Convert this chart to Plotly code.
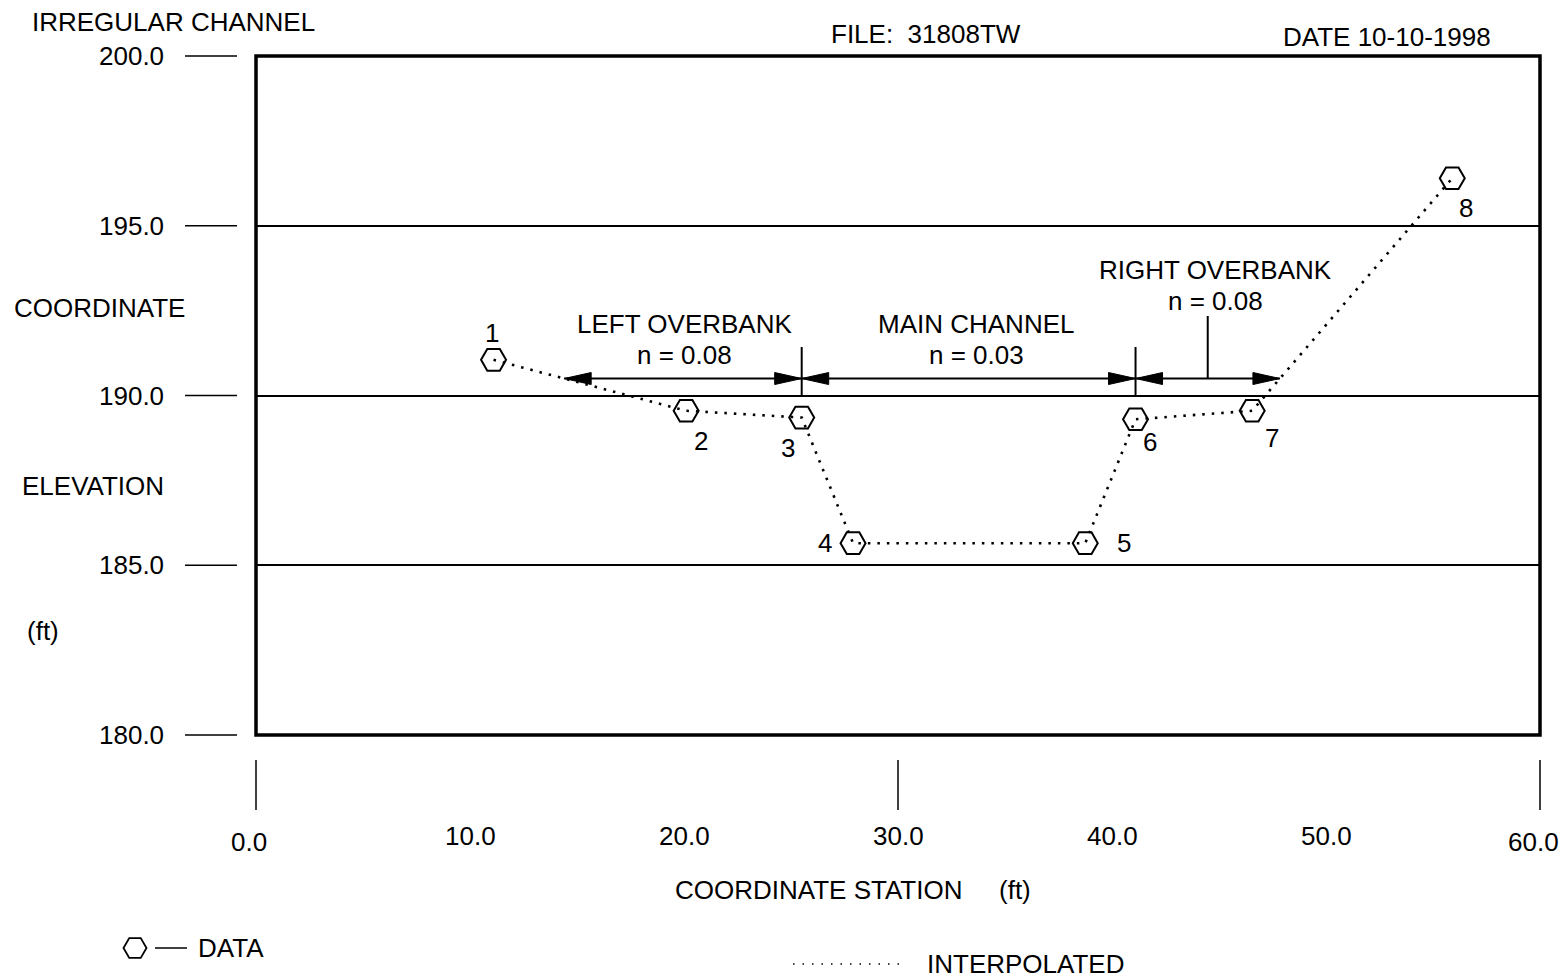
import numpy as np
import plotly.graph_objects as go

# ---------------- data ----------------
station = [11.1, 20.1, 25.5, 27.9, 38.75, 41.1, 46.55, 55.9]
elevation = [191.05, 189.55, 189.35, 185.65, 185.65, 189.3, 189.55, 196.4]
point_ids = ["1", "2", "3", "4", "5", "6", "7", "8"]
y_ticks = [180.0, 185.0, 190.0, 195.0, 200.0]
x_ticks = [0.0, 10.0, 20.0, 30.0, 40.0, 50.0, 60.0]
x_major_ticks = [0.0, 30.0, 60.0]
bank_left = 25.5
bank_right = 41.1
region_names = ["LEFT OVERBANK", "MAIN CHANNEL", "RIGHT OVERBANK"]
manning_n = [0.08, 0.03, 0.08]
n_level = 190.5

# ---------------- layout constants ----------------
W, H = 1564, 978
X0, X1 = 256, 1540      # plot area left/right (px)
YT, YB = 56, 735        # plot area top/bottom (px)
XMIN, XMAX = 0.0, 60.0
YMIN, YMAX = 180.0, 200.0
PXX = (X1 - X0) / (XMAX - XMIN)
PXY = (YB - YT) / (YMAX - YMIN)
FONT = "Liberation Sans, Arial, sans-serif"
FS = 26


def xpx(v):
    return X0 + (v - XMIN) * PXX


def ypx(v):
    return YT + (YMAX - v) * PXY


def yval(py):
    return YMAX - (py - YT) / PXY


def crossing(x, y, level, side):
    """station where the ground profile crosses the given level"""
    pts = list(zip(x, y))
    segs = list(zip(pts[:-1], pts[1:]))
    if side == "right":
        segs = segs[::-1]
    for (xa, ya), (xb, yb) in segs:
        if (ya - level) * (yb - level) <= 0 and ya != yb:
            return xa + (level - ya) * (xb - xa) / (yb - ya)
    return x[0] if side == "left" else x[-1]


left_edge = crossing(station, elevation, n_level, "left")
right_edge = crossing(station, elevation, n_level, "right")
bounds = [left_edge, bank_left, bank_right, right_edge]

fig = go.Figure()

# interpolated profile + data points
fig.add_trace(go.Scatter(
    x=station, y=elevation, mode="lines+markers",
    line=dict(color="black", width=2.6, dash="2.5px,7px"),
    marker=dict(symbol="hexagon2-open", size=25, color="black",
                line=dict(color="black", width=2)),
    cliponaxis=False, showlegend=False, hoverinfo="skip",
    xaxis="x", yaxis="y"))

# legend sample marker (pixel overlay axis)
fig.add_trace(go.Scatter(
    x=[135], y=[948], mode="markers",
    marker=dict(symbol="hexagon2-open", size=23, color="black",
                line=dict(color="black", width=1.8)),
    showlegend=False, hoverinfo="skip", xaxis="x2", yaxis="y2"))

shapes = []
annotations = []

# frame
shapes.append(dict(type="rect", xref="x2", yref="y2", x0=X0, x1=X1, y0=YT, y1=YB,
                   line=dict(color="black", width=3.5), layer="above"))

# y tick dashes and labels
for v in y_ticks:
    shapes.append(dict(type="line", xref="x2", yref="y2", x0=185, x1=237,
                       y0=ypx(v), y1=ypx(v), line=dict(color="black", width=1.5)))
    annotations.append(dict(xref="x2", yref="y2", x=166, y=ypx(v), text=f"{v:.1f}",
                            xanchor="right", yanchor="middle", showarrow=False))

# x ticks
for v in x_major_ticks:
    shapes.append(dict(type="line", xref="x2", yref="y2", x0=xpx(v), x1=xpx(v),
                       y0=760, y1=810, line=dict(color="black", width=1.5)))
for v in x_ticks:
    end = v in (XMIN, XMAX)
    annotations.append(dict(xref="x2", yref="y2", x=xpx(v) - (7 if end else 0),
                            y=842 if end else 836, text=f"{v:.1f}",
                            xanchor="center", yanchor="middle", showarrow=False))

# region arrows (dimension lines)
AL = 27 / PXX        # arrowhead length in data units
AH = 6 / PXY         # arrowhead half height in data units


def head(tip, direction):
    base = tip - direction * AL
    return (f"M {tip},{n_level} L {base},{n_level + AH} "
            f"L {base},{n_level - AH} Z")


for a, b in zip(bounds[:-1], bounds[1:]):
    shapes.append(dict(type="line", xref="x", yref="y", x0=a, x1=b,
                       y0=n_level, y1=n_level, line=dict(color="black", width=2)))
    shapes.append(dict(type="path", xref="x", yref="y", path=head(a, -1),
                       fillcolor="black", line=dict(color="black", width=1)))
    shapes.append(dict(type="path", xref="x", yref="y", path=head(b, 1),
                       fillcolor="black", line=dict(color="black", width=1)))

# bank station ticks
for bx in (bank_left, bank_right):
    shapes.append(dict(type="line", xref="x", yref="y", x0=bx, x1=bx,
                       y0=yval(395), y1=yval(347),
                       line=dict(color="black", width=2)))

# right overbank leader
rmid = (bank_right + right_edge) / 2
shapes.append(dict(type="line", xref="x", yref="y", x0=rmid, x1=rmid,
                   y0=n_level, y1=yval(316),
                   line=dict(color="black", width=2)))

# region labels
label_pos = [(684, 324), (976, 324), (1215, 270)]
for name, n, (lx, ly) in zip(region_names, manning_n, label_pos):
    annotations.append(dict(xref="x2", yref="y2", x=lx, y=ly, text=name,
                            showarrow=False, xanchor="center", yanchor="middle"))
    annotations.append(dict(xref="x2", yref="y2", x=lx, y=ly + 31,
                            text=f"n = {n:.2f}", showarrow=False,
                            xanchor="center", yanchor="middle"))

# point labels
offsets = [(-2, 27), (15, -30), (-14, -30), (-28, 0), (39, 0), (14, -23),
           (20, -27), (14, -30)]
for xi, yi, lab, (dx, dy) in zip(station, elevation, point_ids, offsets):
    annotations.append(dict(xref="x", yref="y", x=xi, y=yi, text=lab,
                            xshift=dx, yshift=dy, showarrow=False,
                            xanchor="center", yanchor="middle"))

# titles and axis labels
texts = [
    ("IRREGULAR CHANNEL", 30, 22, "left"),
    ("FILE:\u00a0\u00a031808TW", 926, 34, "center"),
    ("DATE 10-10-1998", 1387, 37, "center"),
    ("COORDINATE", 12, 308, "left"),
    ("ELEVATION", 20, 486, "left"),
    ("(ft)", 25, 631, "left"),
    ("COORDINATE STATION", 673, 890, "left"),
    ("(ft)", 997, 890, "left"),
    ("DATA", 196, 948, "left"),
    ("INTERPOLATED", 925, 964, "left"),
]
for t, tx, ty, anc in texts:
    annotations.append(dict(xref="x2", yref="y2", x=tx, y=ty, text=t,
                            showarrow=False, xanchor=anc, yanchor="middle"))

# legend lines
shapes.append(dict(type="line", xref="x2", yref="y2", x0=155, x1=187, y0=948, y1=948,
                   line=dict(color="black", width=1.5)))
shapes.append(dict(type="line", xref="x2", yref="y2", x0=793, x1=900, y0=964, y1=964,
                   line=dict(color="black", width=1.5, dash="1.5px,8px")))

fig.update_layout(
    width=W, height=H, margin=dict(l=0, r=0, t=0, b=0),
    paper_bgcolor="white", plot_bgcolor="rgba(0,0,0,0)",
    font=dict(family=FONT, size=FS, color="black"),
    showlegend=False,
    xaxis=dict(domain=[X0 / W, X1 / W], range=[XMIN, XMAX], showgrid=False,
               zeroline=False, showticklabels=False, ticks="", showline=False,
               anchor="y"),
    yaxis=dict(domain=[1 - YB / H, 1 - YT / H], range=[YMIN, YMAX],
               tickvals=y_ticks, showgrid=True, gridcolor="black", gridwidth=2,
               zeroline=False, showticklabels=False, ticks="", showline=False,
               anchor="x"),
    xaxis2=dict(domain=[0, 1], range=[0, W], visible=False, anchor="y2",
                fixedrange=True),
    yaxis2=dict(domain=[0, 1], range=[H, 0], visible=False, anchor="x2",
                fixedrange=True),
    shapes=shapes, annotations=annotations,
)

fig.write_html("out.html", post_script="document.body.style.margin='0';",
               config={"displayModeBar": False})
